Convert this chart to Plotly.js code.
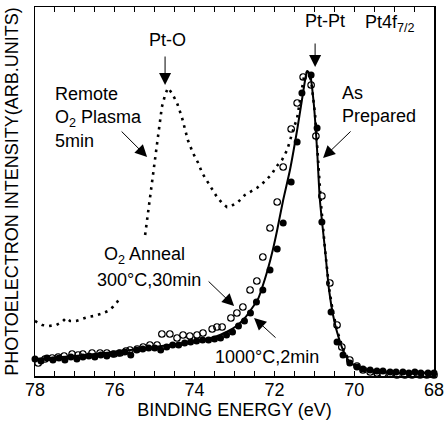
<!DOCTYPE html>
<html>
<head>
<meta charset="utf-8">
<script src="https://cdn.plot.ly/plotly-3.0.1.min.js"></script>
<style>
  html, body { margin: 0; padding: 0; background: #fff; }
  #chart { width: 446px; height: 423px; }
</style>
</head>
<body>
<div id="chart"></div>
<script>
// Pt 4f7/2 photoelectron spectra: binding energy (eV) vs intensity (arb. units)

// As prepared (solid line)
const asPrepE = [78.00, 77.00, 76.00, 75.00, 74.00, 73.50, 73.20, 72.95, 72.74, 72.54, 72.41, 72.31,
  72.17, 72.04, 71.93, 71.78, 71.61, 71.43, 71.31, 71.23, 71.18, 71.11, 71.01, 70.93, 70.86, 70.73,
  70.63, 70.53, 70.43, 70.26, 70.11, 69.85, 69.48, 68.85, 68.00];
const asPrepI = [17, 20, 24, 29, 35, 39, 44, 50, 58, 69, 77, 88,
  106, 126, 146, 176, 206, 246, 276, 296, 305, 302, 271, 226, 176, 126,
  86, 61, 44, 24, 14, 8, 5, 3, 3];

// Remote O2 plasma, 5 min (dotted line, two measured segments)
const plasmaE = [78.00, 77.82, 77.65, 77.47, 77.32, 77.22, 77.12, 76.97, 76.82, 76.67, 76.52, 76.35,
  76.17, 76.05, 75.94, 75.87, 75.55,
  75.24, 75.17, 75.12, 75.07, 75.02, 74.97, 74.92, 74.87, 74.82, 74.74, 74.67, 74.57, 74.44, 74.32,
  74.24, 74.17, 74.04, 73.91, 73.81, 73.66, 73.44, 73.31, 73.19, 73.04, 72.91, 72.74, 72.61, 72.44,
  72.31, 72.19, 72.06, 71.96, 71.81, 71.68, 71.61, 71.53, 71.43, 71.36, 71.31, 71.26, 71.18, 71.08,
  70.98, 70.91, 70.83, 70.73, 70.63, 70.53, 70.41, 70.26, 70.11, 69.85, 69.48, 68.85, 68.00];
const plasmaI = [55, 51, 50, 51, 54, 58, 55, 55, 57, 59, 60, 62,
  65, 69, 74, 78, null,
  141, 163, 179, 196, 211, 226, 241, 256, 269, 281, 288, 283, 273, 259,
  248, 236, 223, 213, 203, 193, 179, 173, 169, 171, 174, 181, 184, 188,
  192, 197, 202, 209, 216, 226, 236, 246, 258, 276, 289, 299, 304, 296,
  261, 216, 171, 126, 88, 63, 43, 25, 15, 9, 5, 4, 3];

// O2 anneal 300°C, 30 min (open circles)
const annealE = [77.92, 77.75, 77.57, 77.42, 77.27, 77.07, 76.92, 76.80, 76.57, 76.37, 76.20, 76.02,
  75.87, 75.72, 75.62, 75.44, 75.29, 75.12, 74.94, 74.82, 74.62, 74.44, 74.29, 74.12, 73.94, 73.79,
  73.56, 73.44, 73.31, 73.09, 72.94, 72.79, 72.61, 72.44, 72.29, 72.11, 71.93, 71.78, 71.58, 71.43,
  71.28, 71.08, 70.96, 70.81, 70.61, 70.43, 70.31, 70.11, 69.93, 69.78, 69.60, 69.43, 69.28, 69.10,
  68.93, 68.73, 68.55, 68.35, 68.18, 68.00];
const annealI = [13, 17, 18, 19, 20, 22, 21, 22, 23, 23, 23, 22,
  23, 25, 26, 27, 29, 31, 31, 42, 42, 38, 41, 40, 41, 43,
  47, 49, 49, 58, 63, 69, 86, 95, 119, 148, 174, 209, 247, 273,
  299, 291, 240, 180, 93, 51, 29, 16, 10, 6, 4, 3, 2, 2,
  1, 1, 1, 1, 1, 1];

// 1000°C, 2 min (filled circles)
const hotE = [78.00, 77.85, 77.70, 77.55, 77.40, 77.25, 77.10, 76.95, 76.80, 76.65, 76.50, 76.35,
  76.20, 76.05, 75.90, 75.75, 75.60, 75.45, 75.30, 75.15, 75.00, 74.85, 74.70, 74.55, 74.40, 74.25,
  74.10, 73.95, 73.80, 73.65, 73.50, 73.35, 73.20, 73.05, 72.90, 72.75, 72.60, 72.45, 72.29, 72.11,
  71.93, 71.78, 71.58, 71.43, 71.31, 71.08, 70.93, 70.81, 70.58, 70.43, 70.28, 70.11, 69.93, 69.78,
  69.60, 69.43, 69.28, 69.10, 68.95, 68.78, 68.63, 68.48, 68.33, 68.15, 68.00];
const hotI = [17, 15, 18, 16, 18, 16, 19, 17, 19, 20, 19, 21,
  20, 22, 23, 24, 21, 26, 27, 28, 28, 26, 29, 31, 31, 33,
  34, 35, 36, 36, 37, 38, 41, 44, 50, 55, 63, 74, 86, 106,
  127, 153, 194, 234, 283, 301, 248, 154, 64, 34, 21, 13, 9, 7,
  6, 5, 5, 4, 4, 4, 3, 4, 3, 3, 3];

// Energy ticks every 0.5 eV, labelled on even values
const tickE = [78, 77.5, 77, 76.5, 76, 75.5, 75, 74.5, 74, 73.5, 73, 72.5, 72, 71.5, 71, 70.5, 70, 69.5, 69, 68.5, 68];
const tickText = ['78', '', '', '', '76', '', '', '', '74', '', '', '', '72', '', '', '', '70', '', '', '', '68'];

const FONT = 'Liberation Sans, Arial, Helvetica, sans-serif';

const traces = [
  {
    x: plasmaE, y: plasmaI, type: 'scatter', mode: 'lines', name: 'Remote O2 Plasma 5min',
    line: { color: '#000', width: 2.6, dash: '2.6px,5px' }, connectgaps: false, cliponaxis: false
  },
  {
    x: asPrepE, y: asPrepI, type: 'scatter', mode: 'lines', name: 'As Prepared',
    line: { color: '#000', width: 2, shape: 'spline', smoothing: 0.6 }, cliponaxis: false
  },
  {
    x: annealE, y: annealI, type: 'scatter', mode: 'markers', name: 'O2 Anneal 300°C,30min',
    marker: { symbol: 'circle-open', size: 6.5, color: '#000', line: { width: 1.2, color: '#000' } },
    cliponaxis: false
  },
  {
    x: hotE, y: hotI, type: 'scatter', mode: 'markers', name: '1000°C,2min',
    marker: { symbol: 'circle', size: 7, color: '#000' }, cliponaxis: false
  }
];

const txt = (x, y, text, xanchor, extra) => Object.assign({
  x, y, xref: 'x', yref: 'y', text, showarrow: false, xanchor: xanchor || 'left', yanchor: 'middle',
  align: 'left', font: { family: FONT, size: 18, color: '#000' }
}, extra || {});

// Pointer arrows; the tip sits on (x, y), the tail is offset by (ax, ay) pixels
const arrow = (x, y, ax, ay) => ({
  x, y, xref: 'x', yref: 'y', text: '', showarrow: true, ax, ay,
  arrowhead: 2, arrowsize: 2.4, arrowwidth: 1, arrowcolor: '#000'
});

const layout = {
  width: 446, height: 423,
  margin: { l: 35, r: 12, t: 7, b: 47 },
  paper_bgcolor: '#fff', plot_bgcolor: '#fff',
  showlegend: false,
  font: { family: FONT, size: 18, color: '#000' },
  xaxis: {
    range: [78, 68], tickmode: 'array', tickvals: tickE, ticktext: tickText,
    ticks: 'inside', ticklen: 5, tickwidth: 1, tickcolor: '#000',
    showline: true, linecolor: '#000', linewidth: 1.5, mirror: 'ticks',
    showgrid: false, zeroline: false, ticklabelstandoff: -3,
    tickfont: { family: FONT, size: 18, color: '#000' },
    title: { text: 'BINDING ENERGY (eV)', font: { family: FONT, size: 18, color: '#000' }, standoff: 0 }
  },
  yaxis: {
    range: [0, 369], showticklabels: false, ticks: '',
    showline: true, linecolor: '#000', linewidth: 1.5, mirror: true,
    showgrid: false, zeroline: false,
    title: { text: 'PHOTOELECTRON INTENSITY(ARB.UNITS)', font: { family: FONT, size: 18, color: '#000' }, standoff: 10 }
  },
  annotations: [
    txt(77.55, 259, 'Remote<br>O<sub>2</sub> Plasma<br>5min'),
    txt(74.67, 336, 'Pt-O', 'center'),
    txt(70.73, 355, 'Pt-Pt', 'center'),
    txt(69.78, 353, 'Pt4f<sub>7/2</sub>'),
    txt(70.36, 272, 'As<br>Prepared'),
    txt(76.32, 121, 'O<sub>2</sub> Anneal'),
    txt(76.50, 96, '300°C,30min'),
    txt(73.54, 19, '1000°C,2min'),
    arrow(74.74, 291, 0, -30),
    arrow(70.98, 309, 0, -25),
    arrow(75.19, 219, -27, -27),
    arrow(70.78, 218, 29, -28),
    arrow(73.01, 70, -27, -26),
    arrow(72.51, 58, 23, 21)
  ]
};

Plotly.newPlot('chart', traces, layout, { displayModeBar: false, staticPlot: true });
</script>
</body>
</html>
